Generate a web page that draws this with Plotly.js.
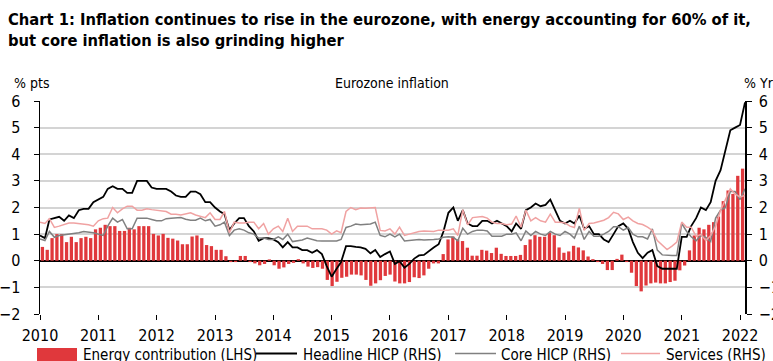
<!DOCTYPE html>
<html>
<head>
<meta charset="utf-8">
<script src="https://cdn.plot.ly/plotly-3.0.1.min.js"></script>
<style>
  html, body { margin: 0; padding: 0; background: #ffffff; }
  #chart { width: 773px; height: 361px; }
</style>
</head>
<body>
<div id="chart"></div>
<script>
// ---------- DATA (monthly, Jan 2010 - Feb 2022) ----------
const years = ['2010','2011','2012','2013','2014','2015','2016','2017','2018','2019','2020','2021','2022'];

const energyContribution = [
  0.52, 0.41, 0.85, 1.0, 1.0, 0.7, 0.9, 0.7, 0.85, 0.9, 0.85, 1.18,
  1.24, 1.35, 1.3, 1.3, 1.12, 1.12, 1.24, 1.18, 1.3, 1.3, 1.3, 1.01,
  0.95, 1.01, 0.86, 0.83, 0.76, 0.62, 0.62, 0.91, 0.95, 0.85, 0.59, 0.55,
  0.41, 0.41, 0.17, -0.05, -0.05, 0.18, 0.18, -0.05, -0.1, -0.17, -0.12, 0.05,
  -0.17, -0.3, -0.25, -0.12, -0.08, 0.06, -0.1, -0.22, -0.27, -0.24, -0.3, -0.72,
  -0.95, -0.79, -0.64, -0.6, -0.52, -0.52, -0.55, -0.72, -0.94, -0.85, -0.73, -0.57,
  -0.52, -0.78, -0.85, -0.85, -0.8, -0.62, -0.65, -0.55, -0.3, -0.1, -0.1, 0.25,
  0.8, 0.91, 0.8, 0.74, 0.49, 0.19, 0.19, 0.41, 0.38, 0.29, 0.49, 0.26,
  0.18, 0.18, 0.18, 0.22, 0.59, 0.8, 0.96, 0.9, 0.9, 1.05, 0.96, 0.5,
  0.3, 0.35, 0.56, 0.5, 0.39, 0.16, 0.06, -0.05, -0.12, -0.35, -0.35, 0.07,
  0.23, -0.05, -0.45, -0.95, -1.15, -0.93, -0.85, -0.82, -0.85, -0.85, -0.8, -0.75,
  -0.36, -0.18, 0.39, 0.95, 1.24, 1.18, 1.35, 1.45, 1.66, 2.24, 2.64, 2.51,
  3.19, 3.46
];

const headlineHICP = [
  0.95, 0.85, 1.55, 1.6, 1.65, 1.5, 1.7, 1.6, 1.9, 1.95, 1.95, 2.2,
  2.3, 2.4, 2.7, 2.8, 2.7, 2.7, 2.55, 2.55, 3.0, 3.0, 3.0, 2.75,
  2.7, 2.7, 2.7, 2.6, 2.45, 2.4, 2.4, 2.6, 2.6, 2.5, 2.2, 2.2,
  2.0, 1.85, 1.75, 1.15, 1.4, 1.6, 1.6, 1.3, 1.1, 0.75, 0.85, 0.85,
  0.8, 0.7, 0.5, 0.7, 0.5, 0.5, 0.4, 0.4, 0.3, 0.4, 0.25, -0.2,
  -0.6, -0.3, -0.05, 0.55, 0.55, 0.52, 0.5, 0.45, 0.28, 0.4, 0.14, 0.25,
  0.35, -0.12, -0.02, -0.26, -0.12, 0.08, 0.2, 0.22, 0.38, 0.5, 0.62, 1.1,
  1.8, 2.0, 1.5, 1.9, 1.4, 1.3, 1.3, 1.5, 1.5, 1.4, 1.5, 1.4,
  1.3, 1.1, 1.4, 1.2, 1.9, 2.0, 2.15, 2.05, 2.1, 2.3, 1.9, 1.5,
  1.4, 1.5, 1.4, 1.7, 1.2, 1.3, 1.0, 1.0, 0.8, 0.7, 1.0, 1.3,
  1.4, 1.2, 0.7, 0.3, 0.1, 0.3, 0.4, -0.2, -0.3, -0.3, -0.3, -0.3,
  0.9, 0.9, 1.3, 1.6, 2.0, 1.9, 2.2, 3.0, 3.4, 4.1, 4.9, 5.0,
  5.1, 5.95
];

const coreHICP = [
  0.82, 0.76, 1.1, 0.88, 0.95, 0.97, 1.0, 1.02, 1.05, 1.1, 1.08, 1.05,
  1.0, 0.95, 1.3, 1.6, 1.45, 1.55, 1.2, 1.2, 1.6, 1.6, 1.6, 1.55,
  1.5, 1.5, 1.58, 1.6, 1.62, 1.62, 1.56, 1.52, 1.52, 1.6, 1.5, 1.55,
  1.3, 1.35, 1.45, 0.95, 1.15, 1.2, 1.15, 1.05, 1.0, 0.85, 0.85, 0.8,
  0.8, 0.9, 0.8, 1.0, 0.72, 0.74, 0.78, 0.85, 0.8, 0.75, 0.74, 0.74,
  0.72, 0.74, 0.8, 1.25, 1.3, 1.38, 1.35, 1.36, 1.38, 1.45, 0.95, 0.9,
  1.0, 0.9, 1.0, 0.74, 0.76, 0.8, 0.8, 0.78, 0.78, 0.8, 0.82, 0.88,
  0.9, 0.88, 0.75, 1.22, 1.0, 1.1, 1.15, 1.15, 1.12, 0.92, 0.92, 0.92,
  1.0, 1.0, 1.05, 0.75, 1.12, 0.95, 1.1, 1.0, 0.95, 1.1, 1.0, 0.95,
  1.1, 1.0, 0.85, 1.3, 0.8, 1.1, 0.92, 0.92, 1.0, 1.1, 1.28, 1.28,
  1.15, 1.25, 1.0, 0.9, 0.9, 0.82, 1.2, 0.4, 0.22, 0.2, 0.2, 0.2,
  1.4, 1.1, 0.9, 0.75, 0.95, 0.88, 0.72, 1.6, 1.9, 2.0, 2.6, 2.6,
  2.3, 2.7
];

const servicesHICP = [
  1.45, 1.4, 1.58, 1.25, 1.3, 1.35, 1.42, 1.42, 1.4, 1.38, 1.35, 1.3,
  1.5, 1.58, 1.6, 2.0, 1.8, 1.95, 2.05, 2.05, 1.9, 1.9, 1.95, 1.92,
  1.9, 1.88, 1.85, 1.75, 1.75, 1.72, 1.75, 1.8, 1.72, 1.68, 1.62, 1.8,
  1.55, 1.55, 1.85, 1.05, 1.45, 1.42, 1.42, 1.45, 1.45, 1.2, 1.4, 1.0,
  1.2, 1.3, 1.1, 1.6, 1.1, 1.3, 1.3, 1.3, 1.2, 1.2, 1.2, 1.15,
  1.0, 1.12, 1.05, 1.85, 2.0, 1.92, 1.98, 1.97, 1.98, 2.0, 1.14, 1.12,
  1.2, 1.0, 1.26, 0.95, 1.0, 1.05, 1.1, 1.12, 1.1, 1.1, 1.15, 1.15,
  1.15, 1.2, 0.95, 1.92, 1.35, 1.62, 1.65, 1.66, 1.6, 1.45, 1.4, 1.4,
  1.35, 1.38, 1.68, 1.26, 1.9, 1.5, 1.62, 1.5, 1.45, 1.75, 1.45, 1.45,
  1.42, 1.3, 1.25, 1.97, 1.14, 1.4, 1.42, 1.48, 1.52, 1.62, 1.82, 1.76,
  1.55, 1.64, 1.5, 1.4, 1.36, 1.26, 1.14, 0.76, 0.6, 0.42, 0.55, 0.7,
  1.45, 1.26, 1.26, 0.92, 0.98, 0.76, 0.95, 1.3, 1.9, 2.3, 2.7, 2.5,
  2.4, 2.45
];

// month labels (categories) Jan 2010 .. Feb 2022
const months = [];
for (let i = 0; i < energyContribution.length; i++) {
  const y = 2010 + Math.floor(i / 12);
  const m = (i % 12) + 1;
  months.push(y + '-' + (m < 10 ? '0' + m : m));
}
const monthDates = months.map(m => m + '-01');
const yearTickVals = years.map(y => y + '-01-01');

// ---------- STYLE ----------
const FONT = '"Liberation Sans Narrow", "Arial Narrow", "DejaVu Sans Condensed", sans-serif';
const RED = '#e0383c';
const L = 40, R = 745, T = 101, B = 314, W = 773, H = 361;
const px = x => (x - L) / (R - L);
const py = y => (B - y) / (B - T);

const traces = [
  {
    type: 'bar', name: 'Energy contribution (LHS)',
    x: months, y: energyContribution,
    xaxis: 'x', yaxis: 'y',
    marker: { color: RED, line: { width: 0 } },
    hoverinfo: 'skip'
  },
  {
    type: 'scatter', mode: 'lines', name: 'Headline HICP (RHS)',
    x: monthDates, y: headlineHICP, xaxis: 'x2', yaxis: 'y2',
    line: { color: '#000000', width: 1.8 }
  },
  {
    type: 'scatter', mode: 'lines', name: 'Core HICP (RHS)',
    x: monthDates, y: coreHICP, xaxis: 'x2', yaxis: 'y2',
    line: { color: '#808080', width: 1.5 }
  },
  {
    type: 'scatter', mode: 'lines', name: 'Services (RHS)',
    x: monthDates, y: servicesHICP, xaxis: 'x2', yaxis: 'y2',
    line: { color: '#f0a2a2', width: 1.5 }
  }
];

const tickFont = { family: FONT, size: 16, color: '#000000' };

const layout = {
  width: W, height: H,
  margin: { l: L, r: W - R, t: T, b: H - B, pad: 0 },
  paper_bgcolor: '#ffffff', plot_bgcolor: '#ffffff',
  showlegend: false,
  bargap: 0.32,
  title: {
    text: '<b>Chart 1: Inflation continues to rise in the eurozone, with energy accounting for 60% of it,<br>but core inflation is also grinding higher</b>',
    font: { family: FONT, size: 16.4, color: '#000000' },
    x: 8 / W, xanchor: 'left', xref: 'container',
    y: 1 - 25 / H, yanchor: 'top', yref: 'container'
  },
  xaxis: {
    type: 'category', visible: false,
    categoryorder: 'array', categoryarray: months,
    range: [-0.5, months.length - 0.5], fixedrange: true
  },
  xaxis2: {
    type: 'date', overlaying: 'x', anchor: 'y2', side: 'bottom',
    range: ['2010-01-01', '2022-02-01'],
    tickmode: 'array', tickvals: yearTickVals, ticktext: years,
    ticks: 'outside', ticklen: 5, tickcolor: '#000000', tickwidth: 1,
    showgrid: false, showline: false, zeroline: false,
    tickfont: tickFont, ticklabelstandoff: 2
  },
  yaxis: {
    range: [-2, 6], dtick: 1, tick0: 0,
    showline: true, linecolor: '#000000', linewidth: 1.5,
    ticks: 'outside', ticklen: 5, tickcolor: '#000000',
    showgrid: true, gridcolor: '#d4d4d4', gridwidth: 2,
    zeroline: true, zerolinecolor: '#000000', zerolinewidth: 1.5,
    tickfont: tickFont, ticklabelstandoff: 10
  },
  yaxis2: {
    range: [-2, 6], dtick: 1, tick0: 0,
    overlaying: 'y', side: 'right', anchor: 'x2',
    showline: true, linecolor: '#000000', linewidth: 1.5,
    ticks: 'outside', ticklen: 5, tickcolor: '#000000',
    showgrid: false, zeroline: false,
    tickfont: tickFont, ticklabelstandoff: 4
  },
  annotations: [
    { text: '% pts', xref: 'paper', yref: 'paper', x: px(12), y: py(83), xanchor: 'left', yanchor: 'middle', showarrow: false, font: { family: FONT, size: 14, color: '#000' } },
    { text: 'Eurozone inflation', xref: 'paper', yref: 'paper', x: px(392), y: py(83), xanchor: 'center', yanchor: 'middle', showarrow: false, font: { family: FONT, size: 14, color: '#000' } },
    { text: '% Yr', xref: 'paper', yref: 'paper', x: px(742), y: py(83), xanchor: 'left', yanchor: 'middle', showarrow: false, font: { family: FONT, size: 14, color: '#000' } },
    { text: 'Energy contribution (LHS)', xref: 'paper', yref: 'paper', x: px(81), y: py(355), xanchor: 'left', yanchor: 'middle', showarrow: false, font: { family: FONT, size: 15, color: '#000' } },
    { text: 'Headline HICP (RHS)', xref: 'paper', yref: 'paper', x: px(301), y: py(355), xanchor: 'left', yanchor: 'middle', showarrow: false, font: { family: FONT, size: 15, color: '#000' } },
    { text: 'Core HICP (RHS)', xref: 'paper', yref: 'paper', x: px(499), y: py(355), xanchor: 'left', yanchor: 'middle', showarrow: false, font: { family: FONT, size: 15, color: '#000' } },
    { text: 'Services (RHS)', xref: 'paper', yref: 'paper', x: px(664), y: py(355), xanchor: 'left', yanchor: 'middle', showarrow: false, font: { family: FONT, size: 15, color: '#000' } }
  ],
  shapes: [
    { type: 'rect', xref: 'paper', yref: 'paper', x0: px(37), x1: px(77), y0: py(348), y1: py(366), fillcolor: RED, line: { width: 0 } },
    { type: 'line', xref: 'paper', yref: 'paper', x0: px(256), x1: px(297), y0: py(353.5), y1: py(353.5), line: { color: '#000000', width: 1.8 } },
    { type: 'line', xref: 'paper', yref: 'paper', x0: px(455), x1: px(496), y0: py(353.5), y1: py(353.5), line: { color: '#808080', width: 1.5 } },
    { type: 'line', xref: 'paper', yref: 'paper', x0: px(621), x1: px(660), y0: py(353.5), y1: py(353.5), line: { color: '#f0a2a2', width: 1.5 } }
  ]
};

Plotly.newPlot('chart', traces, layout, { staticPlot: true, displayModeBar: false });
</script>
</body>
</html>
